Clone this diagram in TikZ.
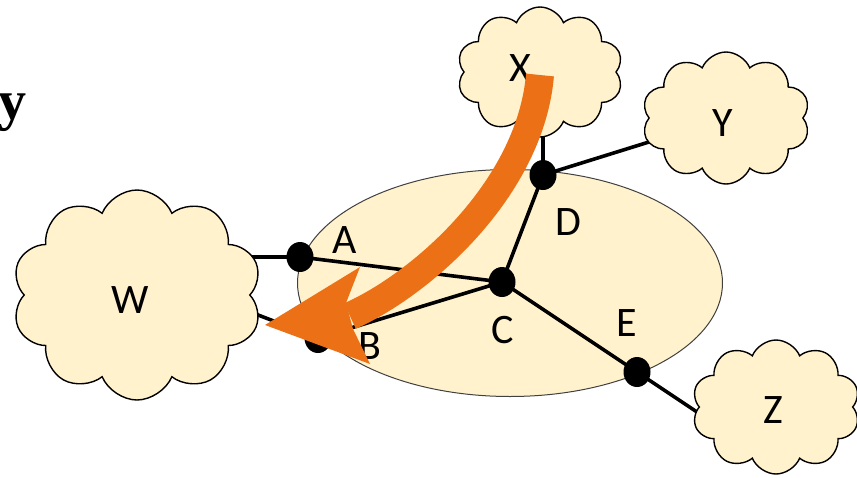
\documentclass[tikz,border=0pt]{standalone}
\usepackage{fontspec}
\setmainfont{Carlito}
\newfontfamily\titleserif{Liberation Serif}
\usetikzlibrary{shapes.symbols,shapes.geometric,calc}
\definecolor{cream}{HTML}{FFF2CC}
\definecolor{arroworange}{HTML}{EC7016}
\pgfdeclarelayer{background}
\pgfdeclarelayer{foreground}
\pgfsetlayers{background,main,foreground}
\begin{document}
\begin{tikzpicture}[x=1pt,y=-1pt,
  cloudnode/.style={cloud, cloud puffs=10, cloud puff arc=135, cloud ignores aspect,
    draw=black, line width=1.4pt, fill=cream, inner sep=0pt},
  dotnode/.style={ellipse, fill=black, minimum width=27pt, minimum height=30pt, inner sep=0pt},
  link/.style={line width=3.6pt, black},
  lbl/.style={font=\fontsize{42}{42}\selectfont, inner sep=0pt},
]
\useasboundingbox (0,0) rectangle (857,477);

% clouds
\node[cloudnode, minimum width=166pt, minimum height=130pt] (X) at (540,72) {};
\node[cloudnode, minimum width=168pt, minimum height=132pt] (Y) at (726,118) {};
\node[cloudnode, minimum width=168pt, minimum height=134pt] (Z) at (776,407) {};
\node[cloudnode, minimum width=250pt, minimum height=210pt] (W) at (137,295) {};

% dots
\node[dotnode] (A) at (300,257) {};
\node[dotnode] (B) at (318,338) {};
\node[dotnode] (C) at (502,282) {};
\node[dotnode] (D) at (543,175) {};
\node[dotnode] (E) at (637,372) {};

% labels
\node[lbl] (lX) at (520,68) {X};
\node[lbl] (lY) at (723,123) {Y};
\node[lbl] (lZ) at (773,410) {Z};
\node[lbl] (lW) at (130,300) {W};
\node[lbl] (lA) at (345,240) {A};
\node[lbl] (lB) at (370,346) {B};
\node[lbl] (lC) at (503,330) {C};
\node[lbl] (lD) at (568,222) {D};
\node[lbl] (lE) at (627,323) {E};

\node[anchor=base east, inner sep=0pt, font=\titleserif\bfseries\fontsize{56}{56}\selectfont] (ttl) at (27,119) {y};

\begin{pgfonlayer}{background}
  \node[ellipse, draw=black!75, line width=1pt, fill=cream,
        minimum width=425pt, minimum height=227pt] (net) at (510,283) {};
  \draw[link] (A.center) -- (W.center |- A.center);
  \draw[link] (B.center) -- ($(W.center)+(95,10)$);
  \draw[link] (A.center) -- (C.center);
  \draw[link] (B.center) -- (C.center);
  \draw[link] (C.center) -- (D.center);
  \draw[link] (D.center) -- (D.center |- X.center);
  \draw[link] (D.center) -- (Y.center);
  \draw[link] (C.center) -- (E.center);
  \draw[link] (E.center) -- ($(C.center)!1.55!(E.center)$);
\end{pgfonlayer}

\begin{pgfonlayer}{foreground}
  \coordinate (arS) at (540,75);
  \coordinate (arE) at (350,316);
  \draw[line width=28pt, arroworange] (arS) .. controls (530,190) and (420,285) .. (arE);
  \fill[arroworange] (265,325) -- (360,267) -- (346,303) -- (353,329) -- (370,364) -- cycle;
\end{pgfonlayer}
\end{tikzpicture}
\end{document}
